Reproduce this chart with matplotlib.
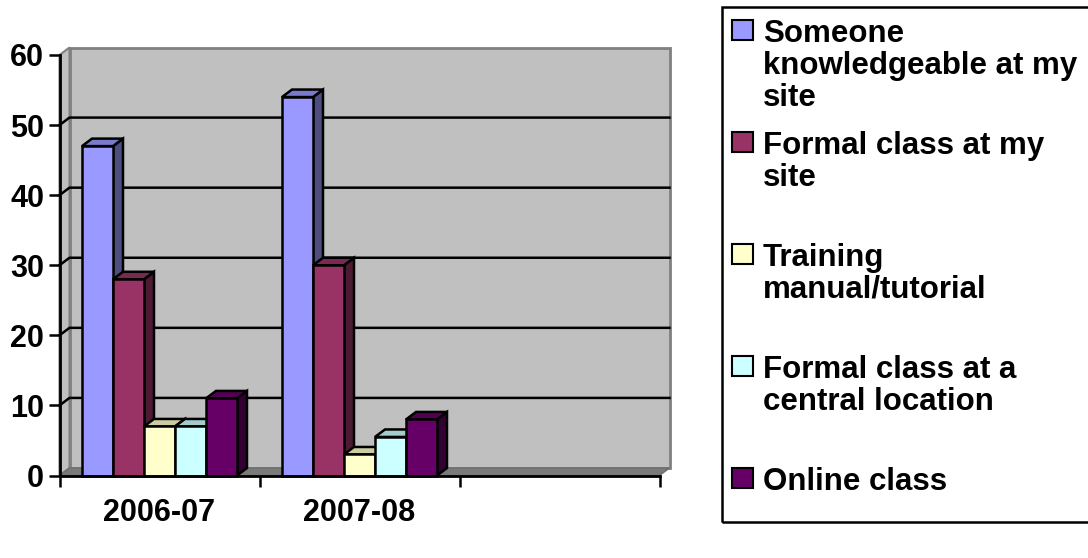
import matplotlib
matplotlib.use("Agg")
import matplotlib.pyplot as plt
from matplotlib.patches import Polygon, Rectangle
import numpy as np

# ---- data ----
categories = ["2006-07", "2007-08", ""]
series_names = [
    "Someone\nknowledgeable at my\nsite",
    "Formal class at my\nsite",
    "Training\nmanual/tutorial",
    "Formal class at a\ncentral location",
    "Online class",
]
values = {
    "Someone knowledgeable at my site": [47, 54, None],
    "Formal class at my site": [28, 30, None],
    "Training manual/tutorial": [7, 3, None],
    "Formal class at a central location": [7, 5.5, None],
    "Online class": [11, 8, None],
}
y_ticks = [0, 10, 20, 30, 40, 50, 60]

# ---- styles ----
front_colors = ["#9999FF", "#993366", "#FFFFCC", "#CCFFFF", "#660066"]
top_colors = ["#7A7ACC", "#7A2952", "#CCCCA3", "#A3CCCC", "#520052"]
side_colors = ["#4D4D80", "#4D1A33", "#808066", "#668080", "#330033"]

plt.rcParams["font.family"] = ["Liberation Sans", "DejaVu Sans"]
plt.rcParams["font.weight"] = "bold"

W, H = 1088, 558
fig = plt.figure(figsize=(W / 100, H / 100), dpi=100)
x0_px, x1_px = 59.5, 659.5
y0_px, y1_px = 475.5, 55.0
ax = fig.add_axes([x0_px / W, (H - y0_px) / H, (x1_px - x0_px) / W, (y0_px - y1_px) / H])
ax.set_xlim(0, len(categories))
ax.set_ylim(0, 60)
ax.patch.set_visible(False)

# depth offsets in data units (10 px right, 7.5 px up)
ddx = 10 * len(categories) / (x1_px - x0_px)
ddy = 7.5 * 60 / (y0_px - y1_px)
ncat = len(categories)

# back wall, side wall, floor
wall = Polygon([(ddx, ddy), (ncat + ddx, ddy), (ncat + ddx, 60 + ddy), (ddx, 60 + ddy)],
               closed=True, fc="#C0C0C0", ec="#808080", lw=2, clip_on=False, zorder=0)
side = Polygon([(0, 0), (ddx, ddy), (ddx, 60 + ddy), (0, 60)],
               closed=True, fc="#C0C0C0", ec="#808080", lw=1.5, clip_on=False, zorder=0)
floor = Polygon([(0, 0), (ncat, 0), (ncat + ddx, ddy), (ddx, ddy)],
                closed=True, fc="#7A7A7A", ec="#6E6E6E", lw=1, clip_on=False, zorder=0.5)
for p in (wall, side, floor):
    ax.add_patch(p)

# gridlines on the wall
for v in y_ticks[1:-1]:
    ax.plot([0, ddx, ncat + ddx], [v, v + ddy, v + ddy], color="black", lw=1.8,
            clip_on=False, zorder=0.8)

# bars
nser = len(series_names)
bw = 0.155
group_w = bw * nser
keys = list(values.keys())
z = 2
for ci in range(ncat):
    for si, key in enumerate(keys):
        v = values[key][ci]
        if v is None:
            continue
        xl = ci + 0.5 - group_w / 2 + si * bw
        xr = xl + bw
        # side face
        ax.add_patch(Polygon([(xr, 0), (xr + ddx, ddy), (xr + ddx, v + ddy), (xr, v)],
                             closed=True, fc=side_colors[si], ec="black", lw=1.8,
                             clip_on=False, zorder=z))
        # top face
        ax.add_patch(Polygon([(xl, v), (xr, v), (xr + ddx, v + ddy), (xl + ddx, v + ddy)],
                             closed=True, fc=top_colors[si], ec="black", lw=1.8,
                             clip_on=False, zorder=z))
        # front face
        ax.bar(xl, v, width=bw, align="edge", color=front_colors[si], edgecolor="black",
               linewidth=1.8, zorder=z + 0.1, clip_on=False)
        z += 0.2

# axes styling
for s in ("top", "right"):
    ax.spines[s].set_visible(False)
for s in ("left", "bottom"):
    ax.spines[s].set_linewidth(2)
    ax.spines[s].set_zorder(50)
ax.set_yticks(y_ticks)
ax.set_yticklabels([str(t) for t in y_ticks], fontsize=22, fontweight="bold")
ax.tick_params(axis="y", direction="out", length=8, width=1.8, pad=3)
ax.set_xticks(np.arange(ncat + 1))
ax.set_xticklabels([])
ax.tick_params(axis="x", which="major", direction="out", length=8, width=1.8)
ax.set_xticks(np.arange(ncat) + 0.5, minor=True)
ax.set_xticklabels(categories, minor=True, fontsize=22, fontweight="bold")
ax.tick_params(axis="x", which="minor", length=0, pad=16)

# legend (manual, in pixel-based figure coordinates)
fig.add_artist(Rectangle((722 / W, (H - 522) / H), (1100 - 722) / W, (522 - 7) / H,
                         transform=fig.transFigure, fill=False, ec="black", lw=1.8,
                         clip_on=False))
cap_tops = [20, 132, 244, 356, 468]
for si, name in enumerate(series_names):
    top = cap_tops[si]
    fig.add_artist(Rectangle((732 / W, (H - top - 20) / H), 21 / W, 20 / H,
                             transform=fig.transFigure, fc=front_colors[si], ec="black", lw=1.5))
    fig.text(763 / W, (H - top + 1) / H, name, fontsize=22.5, fontweight="bold",
             va="top", ha="left", linespacing=1.08)

fig.savefig("out.png", dpi=100)
